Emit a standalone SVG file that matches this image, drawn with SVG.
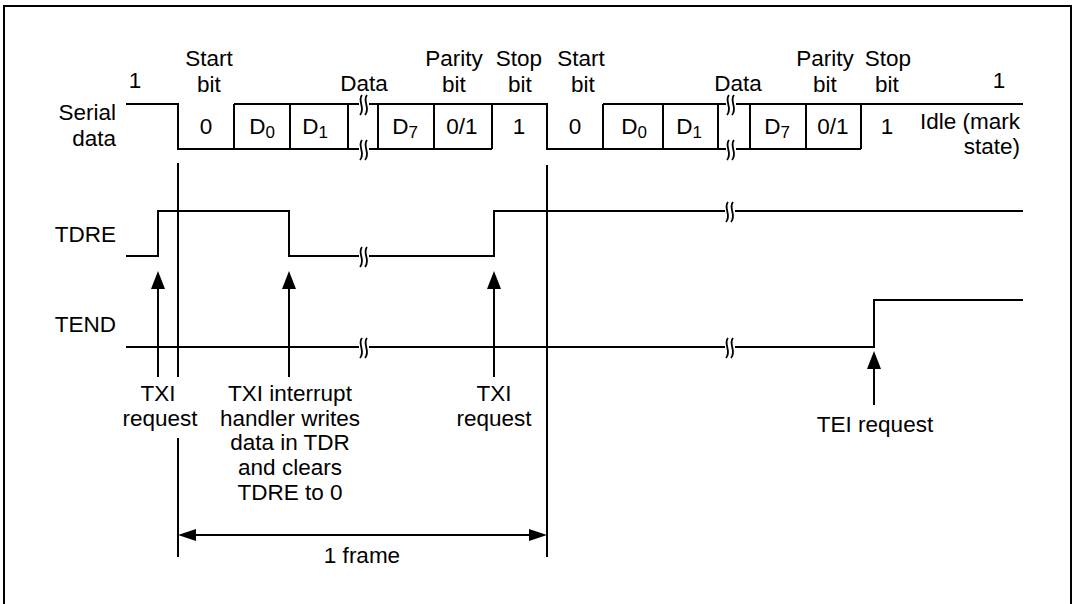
<svg xmlns="http://www.w3.org/2000/svg" width="1073" height="604" viewBox="0 0 1073 604">
<style>
text{font-family:"Liberation Sans",Arial,sans-serif;font-size:22.5px;fill:#000}
.m{text-anchor:middle}
.r{text-anchor:end}
.sub{font-size:17px}
.w{fill:none;stroke:#000;stroke-width:2}
.sq{fill:none;stroke:#000;stroke-width:1.8}
</style>
<defs>
<g id="brk"><path d="M1,-10 C-4,-4 5,3 -1,10 M6,-10 C1,-4 10,3 4,10" class="sq"/></g>
</defs>
<rect width="1073" height="604" fill="#fff"/>
<path d="M4,604 V6 H1071 V604" fill="none" stroke="#000" stroke-width="2"/>

<g id="labels">
<text class="r" x="116" y="120">Serial</text>
<text class="r" x="116" y="146">data</text>
<text class="r" x="116" y="242">TDRE</text>
<text class="r" x="116" y="332">TEND</text>
</g>

<g id="serial-data">
<path class="w" d="M126,104 H178 V149 H359 M369,149 H492 M234,104 H359 M369,104 H547 V149 H726 M736,149 H861 M603,104 H726 M736,104 H1023"/>
<path class="w" d="M234,104 V149 M290,104 V149 M348,104 V149 M378,104 V149 M434,104 V149 M492,104 V149 M603,104 V149 M663,104 V149 M718,104 V149 M750,104 V149 M806,104 V149 M861,104 V149"/>
<use href="#brk" x="361" y="105"/>
<use href="#brk" x="361" y="150"/>
<use href="#brk" x="728" y="105"/>
<use href="#brk" x="728" y="150"/>
<text class="m" x="135" y="88">1</text>
<text class="m" x="209" y="66">Start</text>
<text class="m" x="209" y="92">bit</text>
<text class="m" x="364" y="91">Data</text>
<text class="m" x="454" y="66">Parity</text>
<text class="m" x="454" y="92">bit</text>
<text class="m" x="519" y="66">Stop</text>
<text class="m" x="520" y="92">bit</text>
<text class="m" x="581" y="66">Start</text>
<text class="m" x="583" y="92">bit</text>
<text class="m" x="738" y="91">Data</text>
<text class="m" x="825" y="66">Parity</text>
<text class="m" x="825" y="92">bit</text>
<text class="m" x="888" y="66">Stop</text>
<text class="m" x="887" y="92">bit</text>
<text class="m" x="999" y="88">1</text>
<text class="m" x="206" y="134">0</text>
<text class="m" x="262" y="134">D<tspan class="sub" dy="4">0</tspan></text>
<text class="m" x="315" y="134">D<tspan class="sub" dy="4">1</tspan></text>
<text class="m" x="405" y="134">D<tspan class="sub" dy="4">7</tspan></text>
<text class="m" x="462" y="134">0/1</text>
<text class="m" x="519" y="134">1</text>
<text class="m" x="575" y="134">0</text>
<text class="m" x="634" y="134">D<tspan class="sub" dy="4">0</tspan></text>
<text class="m" x="689" y="134">D<tspan class="sub" dy="4">1</tspan></text>
<text class="m" x="777" y="134">D<tspan class="sub" dy="4">7</tspan></text>
<text class="m" x="833" y="134">0/1</text>
<text class="m" x="887" y="134">1</text>
<text class="r" x="1020" y="129">Idle (mark</text>
<text class="r" x="1020" y="154">state)</text>
</g>

<g id="tdre">
<path class="w" d="M126,256 H158 V211 H289 V256 H359 M369,256 H494 V211 H725 M735,211 H1023"/>
<use href="#brk" x="361" y="257"/>
<use href="#brk" x="727" y="212"/>
</g>

<g id="tend">
<path class="w" d="M126,347 H359 M369,347 H725 M735,347 H874 V300 H1023"/>
<use href="#brk" x="361" y="348"/>
<use href="#brk" x="727" y="348"/>
</g>

<g id="connectors">
<path class="w" d="M178,163 V377 M178,438 V557 M547,165 V557"/>
<path class="w" d="M158,377 V285 M289,377 V285 M494,377 V285 M874,405 V365"/>
<path d="M158,271 L151,289 L165,289 Z M289,271 L282,289 L296,289 Z M494,271 L487,289 L501,289 Z M874,351 L867,369 L881,369 Z" fill="#000"/>
<line class="w" x1="190" y1="535" x2="535" y2="535"/>
<path d="M178,535 L196,529 L196,541 Z M547,535 L529,529 L529,541 Z" fill="#000"/>
</g>

<g id="annotations">
<text class="m" x="158" y="401">TXI</text>
<text class="m" x="160" y="426">request</text>
<text class="m" x="290" y="401">TXI interrupt</text>
<text class="m" x="290" y="426">handler writes</text>
<text class="m" x="290" y="450">data in TDR</text>
<text class="m" x="290" y="475">and clears</text>
<text class="m" x="290" y="500">TDRE to 0</text>
<text class="m" x="494" y="401">TXI</text>
<text class="m" x="494" y="426">request</text>
<text class="m" x="875" y="432">TEI request</text>
<text class="m" x="362" y="563">1 frame</text>
</g>
</svg>
